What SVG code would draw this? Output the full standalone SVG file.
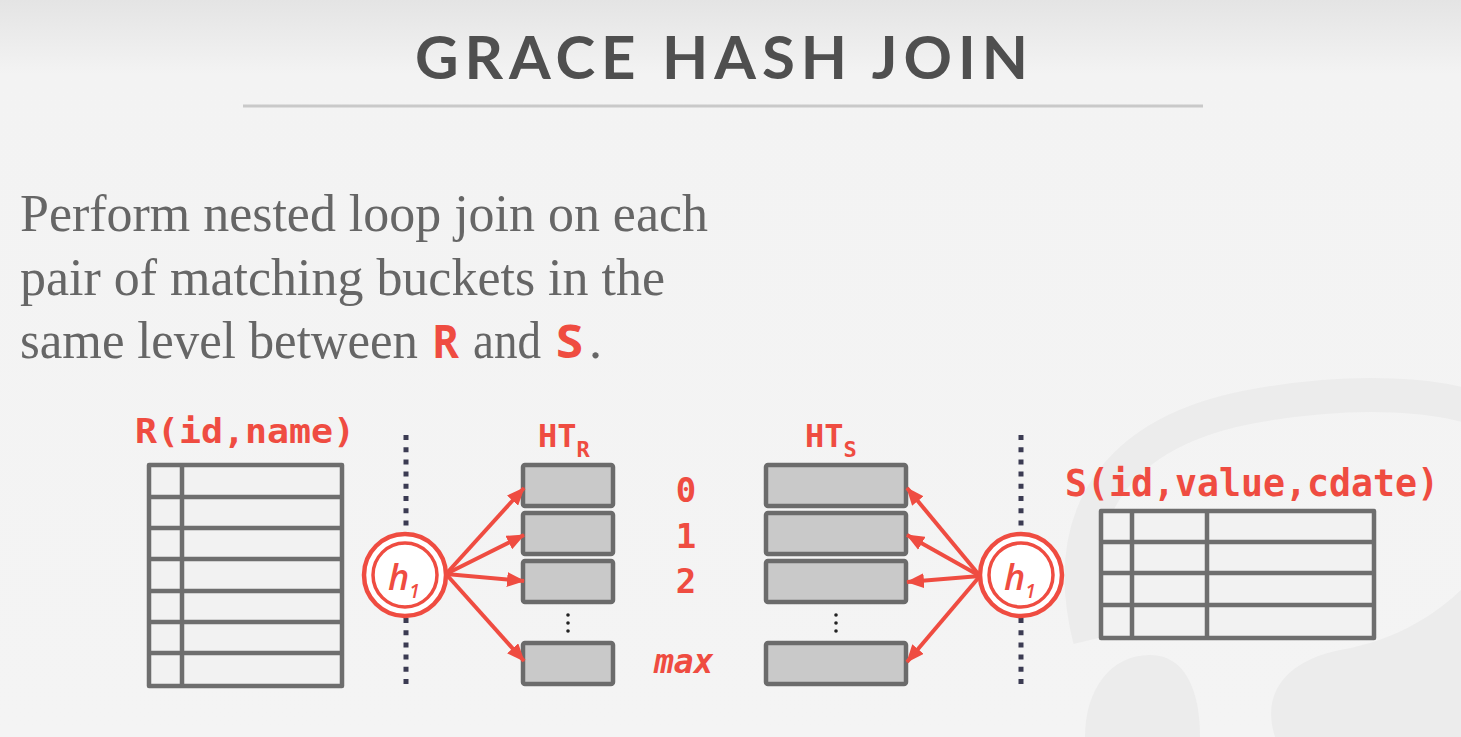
<svg xmlns="http://www.w3.org/2000/svg" width="1461" height="737" viewBox="0 0 1461 737">
<defs>
<linearGradient id="bg" x1="0" y1="0" x2="0" y2="1">
<stop offset="0" stop-color="#e4e4e4"/>
<stop offset="0.1" stop-color="#f3f3f3"/>
<stop offset="1" stop-color="#f4f4f4"/>
</linearGradient>
<marker id="ah" markerUnits="userSpaceOnUse" markerWidth="18" markerHeight="15" refX="17" refY="7.5" orient="auto">
<path d="M0,0 L18,7.5 L0,15 z" fill="#ef4c41"/>
</marker>
<style>
.tbl{fill:#f2f2f2;stroke:#6e6e6e;stroke-width:4.5;stroke-linejoin:round}
.ln{stroke:#6e6e6e;stroke-width:4.5;fill:none}
.bkt{fill:#c9c9c9;stroke:#6b6b6b;stroke-width:4.5}
.dot{stroke:#3b3b52;stroke-width:5;stroke-dasharray:5 7.2;fill:none}
.arr{stroke:#ef4c41;stroke-width:4;fill:none;marker-end:url(#ah)}
.ring{fill:#fff;stroke:#ef4c41}
.mono{font-family:"DejaVu Sans Mono","Liberation Mono",monospace;fill:#ef4c41}
.body{font-family:"Liberation Serif",serif;font-size:52px;fill:#666}
.hb{font-family:"Open Sans","DejaVu Sans",sans-serif;font-style:italic;font-weight:600;fill:#ef4c41}
.vdots{fill:#222}
</style>
</defs>
<rect width="1461" height="737" fill="url(#bg)"/>
<!-- faint watermark -->
<g fill="none" stroke="#ececec" stroke-width="34">
<path d="M1090,640 C1060,520 1110,430 1260,405 C1360,388 1440,395 1480,410"/>
</g>
<g fill="#ececec">
<path d="M1085,737 C1085,690 1110,655 1150,655 C1185,655 1200,690 1200,737 z"/>
<path d="M1275,737 C1260,690 1290,660 1340,650 C1400,640 1440,610 1461,590 L1461,737 z"/>
</g>
<!-- title -->
<text x="415" y="79" textLength="613" lengthAdjust="spacing" font-family="Lato,'Open Sans',sans-serif" font-weight="bold" font-size="60" fill="#4f4f4f">GRACE HASH JOIN</text>
<line x1="243" y1="106" x2="1203" y2="106" stroke="#c9c9c9" stroke-width="3"/>
<!-- body -->
<text class="body" x="20" y="231" textLength="688" lengthAdjust="spacingAndGlyphs">Perform nested loop join on each</text>
<text class="body" x="20" y="295" textLength="645" lengthAdjust="spacingAndGlyphs">pair of matching buckets in the</text>
<text class="body" x="20" y="358" textLength="398" lengthAdjust="spacingAndGlyphs">same level between</text>
<text x="432" y="358" textLength="27" lengthAdjust="spacingAndGlyphs" font-family="'Open Sans','DejaVu Sans',sans-serif" font-weight="bold" font-size="46" fill="#ef4c41">R</text>
<text class="body" x="473" y="358" textLength="68" lengthAdjust="spacingAndGlyphs">and</text>
<text x="556" y="358" textLength="27" lengthAdjust="spacingAndGlyphs" font-family="'Open Sans','DejaVu Sans',sans-serif" font-weight="bold" font-size="46" fill="#ef4c41">S</text>
<text class="body" x="589" y="358">.</text>

<!-- R table -->
<g id="table-r">
<text class="mono" x="135" y="443" font-size="34" font-weight="bold" textLength="220" lengthAdjust="spacingAndGlyphs">R(id,name)</text>
<rect class="tbl" x="149" y="465" width="193" height="221"/>
<path class="ln" d="M182,465V686 M149,497H342 M149,528H342 M149,559H342 M149,591H342 M149,622H342 M149,653H342"/>
</g>

<!-- dotted partitions -->
<g id="partitions">
<line class="dot" x1="406" y1="435" x2="406" y2="686"/>
<line class="dot" x1="1021" y1="435" x2="1021" y2="686"/>
</g>

<!-- HT_R -->
<g id="ht-r">
<text class="mono" x="538" y="447" font-size="32" font-weight="bold">HT<tspan font-size="22" dy="10">R</tspan></text>
<rect class="bkt" x="523" y="465" width="90" height="41" rx="2"/>
<rect class="bkt" x="523" y="513" width="90" height="41" rx="2"/>
<rect class="bkt" x="523" y="561" width="90" height="41" rx="2"/>
<rect class="bkt" x="523" y="643" width="90" height="41" rx="2"/>
<circle class="vdots" cx="568" cy="615" r="1.8"/>
<circle class="vdots" cx="568" cy="623" r="1.8"/>
<circle class="vdots" cx="568" cy="631" r="1.8"/>
</g>

<!-- indices -->
<g id="indices">
<text class="mono" x="686" y="502" font-size="34" font-weight="bold" text-anchor="middle">0</text>
<text class="mono" x="686" y="548" font-size="34" font-weight="bold" text-anchor="middle">1</text>
<text class="mono" x="686" y="593" font-size="34" font-weight="bold" text-anchor="middle">2</text>
<text class="mono" x="654" y="673" font-size="33" font-weight="bold" font-style="italic">max</text>
</g>

<!-- HT_S -->
<g id="ht-s">
<text class="mono" x="805" y="447" font-size="32" font-weight="bold">HT<tspan font-size="22" dy="10">S</tspan></text>
<rect class="bkt" x="766" y="465" width="140" height="41" rx="2"/>
<rect class="bkt" x="766" y="513" width="140" height="41" rx="2"/>
<rect class="bkt" x="766" y="561" width="140" height="41" rx="2"/>
<rect class="bkt" x="766" y="643" width="140" height="41" rx="2"/>
<circle class="vdots" cx="836" cy="615" r="1.8"/>
<circle class="vdots" cx="836" cy="623" r="1.8"/>
<circle class="vdots" cx="836" cy="631" r="1.8"/>
</g>

<!-- connectors -->
<g id="connectors">
<line class="arr" x1="446" y1="574" x2="524" y2="488"/>
<line class="arr" x1="446" y1="574" x2="524" y2="535"/>
<line class="arr" x1="446" y1="574" x2="524" y2="581"/>
<line class="arr" x1="446" y1="574" x2="524" y2="661"/>
<line class="arr" x1="980" y1="576" x2="907" y2="488"/>
<line class="arr" x1="980" y1="576" x2="907" y2="535"/>
<line class="arr" x1="980" y1="576" x2="907" y2="582"/>
<line class="arr" x1="980" y1="576" x2="907" y2="662"/>
</g>

<!-- hash function left -->
<g id="h1-left">
<circle class="ring" cx="405" cy="575" r="41" stroke-width="4.5"/>
<circle class="ring" cx="405" cy="575" r="32" stroke-width="3.5"/>
<text class="hb" x="388" y="590" font-size="36">h<tspan font-size="19" dy="8">1</tspan></text>
</g>

<!-- hash function right -->
<g id="h1-right">
<circle class="ring" cx="1021" cy="575" r="41" stroke-width="4.5"/>
<circle class="ring" cx="1021" cy="575" r="32" stroke-width="3.5"/>
<text class="hb" x="1004" y="590" font-size="36">h<tspan font-size="19" dy="8">1</tspan></text>
</g>

<!-- S table -->
<g id="table-s">
<text class="mono" x="1065" y="496" font-size="37" font-weight="bold" textLength="374" lengthAdjust="spacingAndGlyphs">S(id,value,cdate)</text>
<rect class="tbl" x="1101" y="511" width="273" height="127"/>
<path class="ln" d="M1132,511V638 M1207,511V638 M1101,542H1374 M1101,573H1374 M1101,605H1374"/>
</g>
</svg>
